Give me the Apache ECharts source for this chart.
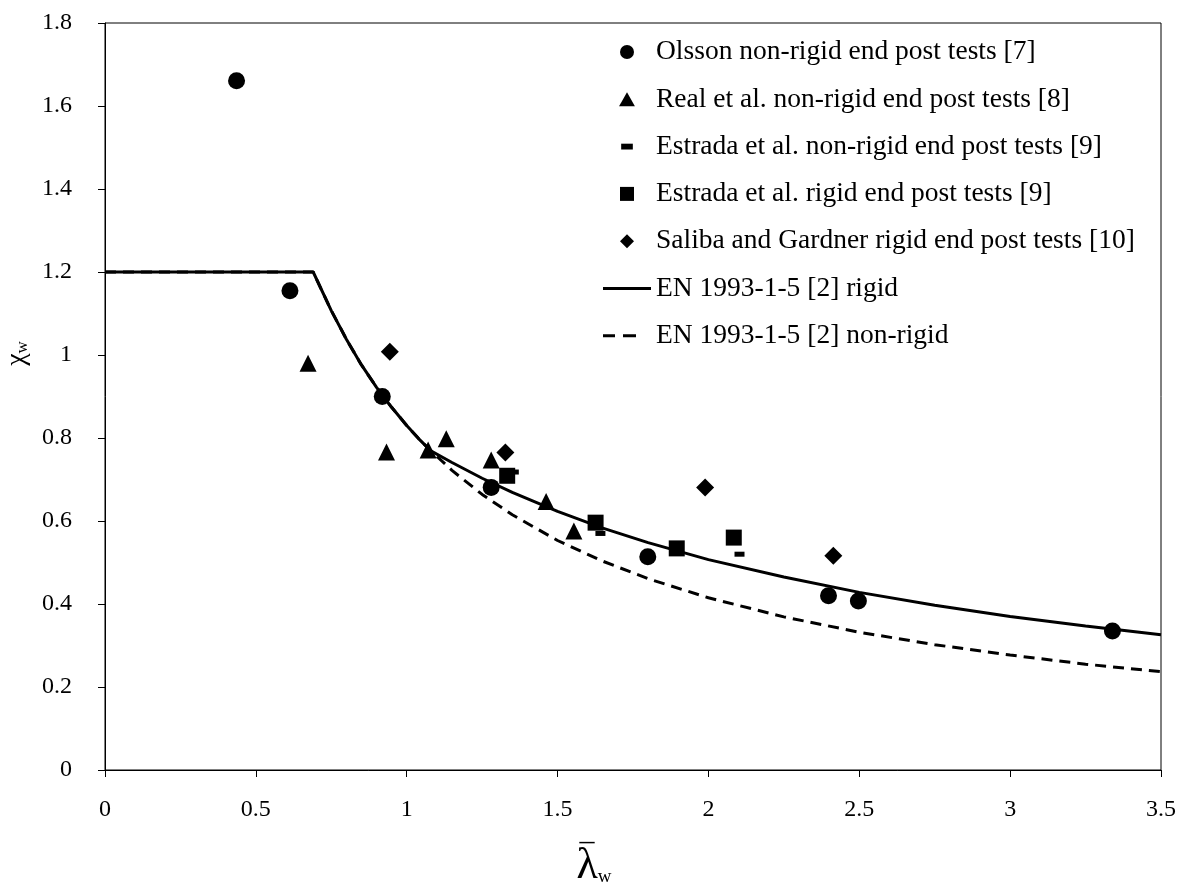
<!DOCTYPE html>
<html>
<head>
<meta charset="utf-8">
<script src="https://cdn.jsdelivr.net/npm/echarts@6/dist/echarts.min.js"></script>
<style>
  html, body { margin: 0; padding: 0; background: #fff; }
  #chart { width: 1187px; height: 883px; }
</style>
</head>
<body>
<div id="chart"></div>
<script>
// test points [slenderness, chi_w]
const olssonNonRigid = [[0.436, 1.661], [0.613, 1.155], [0.919, 0.900], [1.280, 0.681], [1.799, 0.514], [2.398, 0.420], [2.497, 0.407], [3.339, 0.335]]
const realNonRigid = [[0.673, 0.980], [0.933, 0.766], [1.071, 0.771], [1.131, 0.798], [1.280, 0.747], [1.462, 0.647], [1.554, 0.576]]
const estradaNonRigid = [[1.355, 0.718], [1.642, 0.570], [2.103, 0.520]]
const estradaRigid = [[1.333, 0.709], [1.626, 0.596], [1.895, 0.534], [2.084, 0.560]]
const salibaRigid = [[0.944, 1.008], [1.327, 0.765], [1.989, 0.681], [2.414, 0.516]]

// design curves, points
const enRigid = [[0, 1.2], [0.69, 1.2], [0.75, 1.107], [0.8, 1.038], [0.85, 0.976], [0.9, 0.922], [0.95, 0.874], [1.0, 0.83], [1.04, 0.798], [1.08, 0.769], [1.15, 0.741], [1.25, 0.703], [1.35, 0.669], [1.5, 0.623], [1.65, 0.583], [1.8, 0.548], [2.0, 0.507], [2.25, 0.465], [2.5, 0.428], [2.75, 0.397], [3.0, 0.370], [3.25, 0.347], [3.5, 0.326]]
const enNonRigid = [[0, 1.2], [0.69, 1.2], [0.75, 1.107], [0.8, 1.038], [0.85, 0.976], [0.9, 0.922], [0.95, 0.874], [1.0, 0.83], [1.04, 0.798], [1.08, 0.769], [1.15, 0.722], [1.25, 0.664], [1.35, 0.615], [1.5, 0.553], [1.65, 0.503], [1.8, 0.461], [2.0, 0.415], [2.25, 0.369], [2.5, 0.332], [2.75, 0.302], [3.0, 0.277], [3.25, 0.255], [3.5, 0.237]]

const seriesNames = [
  'Olsson non-rigid end post tests [7]',
  'Real et al. non-rigid end post tests [8]',
  'Estrada et al. non-rigid end post tests [9]',
  'Estrada et al. rigid end post tests [9]',
  'Saliba and Gardner rigid end post tests [10]',
  'EN 1993-1-5 [2] rigid',
  'EN 1993-1-5 [2] non-rigid'
]

const FONT = '"Liberation Serif", "Times New Roman", serif'
const triangle = 'path://M8.5,0L17,15L0,15Z'
const square = 'path://M0,0H10V10H0Z'
const diamond = 'path://M5,0L10,5L5,10L0,5Z'
const dash = 'path://M0,0M12,12M1,3.5H11V8.5H1Z'
const solidIcon = 'path://M0,0H48V3H0Z'
const dashedIcon = 'path://M0,0H12V3H0Z M20,0H33V3H20Z M48,0'

const chart = echarts.init(document.getElementById('chart'))

function scatter(name, data, symbol, size) {
  return {
    name: name,
    type: 'scatter',
    data: data,
    symbol: symbol,
    symbolSize: size,
    itemStyle: { color: '#000', opacity: 1 },
    z: 5
  }
}

chart.setOption({
  animation: false,
  backgroundColor: '#fff',
  textStyle: { fontFamily: FONT, color: '#000' },
  grid: {
    left: 105,
    right: 26,
    top: 23,
    bottom: 113,
    outerBoundsMode: 'none',
    show: true,
    borderColor: '#000',
    borderWidth: 1
  },
  legend: {
    orient: 'vertical',
    left: 603,
    top: 38,
    padding: 0,
    itemWidth: 48,
    itemHeight: 14,
    itemGap: 19.3,
    selectedMode: false,
    textStyle: { fontFamily: FONT, fontSize: 27.5, lineHeight: 27, color: '#000' },
    data: [
      { name: seriesNames[0], icon: 'circle' },
      { name: seriesNames[1], icon: triangle },
      { name: seriesNames[2], icon: dash },
      { name: seriesNames[3], icon: square },
      { name: seriesNames[4], icon: diamond },
      { name: seriesNames[5], icon: solidIcon, itemStyle: { color: '#000' } },
      { name: seriesNames[6], icon: dashedIcon, itemStyle: { color: '#000' } }
    ]
  },
  xAxis: {
    type: 'value',
    min: 0,
    max: 3.5,
    interval: 0.5,
    name: '{b|\u2013}\n{l|λ}{s|w}',
    nameLocation: 'middle',
    nameGap: 51,
    nameTextStyle: {
      padding: [0, 78, 0, 0],
      rich: {
        b: { fontFamily: FONT, fontSize: 30, lineHeight: 10, color: '#000', padding: [0, 14, 0, 0] },
        l: { fontFamily: FONT, fontSize: 44, lineHeight: 40, color: '#000' },
        s: { fontFamily: FONT, fontSize: 19, lineHeight: 40, color: '#000', verticalAlign: 'bottom', padding: [16, 0, 0, 0] }
      }
    },
    axisLine: { lineStyle: { color: '#000', width: 1 } },
    axisTick: { show: true, inside: false, length: 7, lineStyle: { color: '#000' } },
    axisLabel: { fontFamily: FONT, fontSize: 24, color: '#000', margin: 28 },
    splitLine: { show: false }
  },
  yAxis: {
    type: 'value',
    min: 0,
    max: 1.8,
    interval: 0.2,
    name: '{c|χ}{s|w}',
    nameLocation: 'middle',
    nameGap: 66,
    nameTextStyle: {
      padding: [0, 0, 0, 86],
      rich: {
        c: { fontFamily: FONT, fontSize: 28, color: '#000' },
        s: { fontFamily: FONT, fontSize: 17, color: '#000', verticalAlign: 'bottom', padding: [10, 0, 0, 0] }
      }
    },
    axisLine: { lineStyle: { color: '#000', width: 1 } },
    axisTick: { show: true, inside: false, length: 7, lineStyle: { color: '#000' } },
    axisLabel: { fontFamily: FONT, fontSize: 24, color: '#000', margin: 33 },
    splitLine: { show: false }
  },
  series: [
    scatter(seriesNames[0], olssonNonRigid, 'circle', 17),
    scatter(seriesNames[1], realNonRigid, triangle, 17),
    scatter(seriesNames[2], estradaNonRigid, dash, 12),
    scatter(seriesNames[3], estradaRigid, square, 16),
    scatter(seriesNames[4], salibaRigid, diamond, 18),
    {
      name: seriesNames[5],
      type: 'line',
      data: enRigid,
      symbol: 'none',
      color: '#000',
      lineStyle: { color: '#000', width: 3 },
      z: 3
    },
    {
      name: seriesNames[6],
      type: 'line',
      data: enNonRigid,
      symbol: 'none',
      color: '#000',
      lineStyle: { color: '#000', width: 3, type: [11, 7] },
      z: 2
    }
  ]
})
</script>
</body>
</html>
